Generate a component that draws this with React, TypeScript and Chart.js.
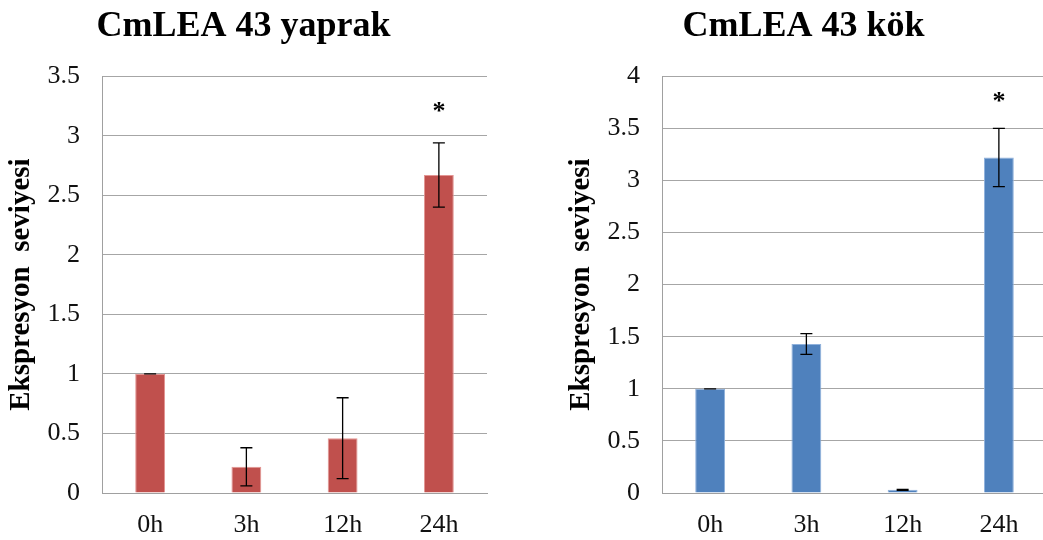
import React, { useEffect, useRef } from "react";
import { Chart, registerables } from "chart.js";

Chart.register(...registerables);

const categories = ["0h", "3h", "12h", "24h"];

const leafTitle = "CmLEA 43 yaprak";
const leafValues = [1.0, 0.22, 0.46, 2.67];
const leafErrors = [0.0, 0.16, 0.34, 0.27];
const leafMarks = ["", "", "", "*"];
const leafMax = 3.5;

const rootTitle = "CmLEA 43 kök";
const rootValues = [1.0, 1.43, 0.03, 3.22];
const rootErrors = [0.0, 0.1, 0.005, 0.28];
const rootMarks = ["", "", "", "*"];
const rootMax = 4;

const yAxisTitle = "Ekspresyon  seviyesi";
const tickStep = 0.5;
const markOffset = 0.29;

const FONT = "'Liberation Serif', 'Times New Roman', serif";

function makeErrorPlugin(errors: number[], marks: string[]) {
  return {
    id: "errorBars",
    afterDatasetsDraw(chart: any) {
      const ctx = chart.ctx;
      const meta = chart.getDatasetMeta(0);
      const y = chart.scales.y;
      const values = chart.data.datasets[0].data as number[];
      ctx.save();
      ctx.strokeStyle = "#000";
      ctx.lineWidth = 1.3;
      meta.data.forEach((bar: any, i: number) => {
        const v = values[i];
        const e = errors[i];
        const x = bar.x;
        const yt = y.getPixelForValue(v + e);
        const yb = y.getPixelForValue(v - e);
        const cap = 6;
        ctx.beginPath();
        ctx.moveTo(x, yt);
        ctx.lineTo(x, yb);
        ctx.moveTo(x - cap, yt);
        ctx.lineTo(x + cap, yt);
        ctx.moveTo(x - cap, yb);
        ctx.lineTo(x + cap, yb);
        ctx.stroke();
        if (marks[i]) {
          const yc = y.getPixelForValue(v + e + markOffset);
          ctx.fillStyle = "#000";
          ctx.font = `bold 26px ${FONT}`;
          ctx.textAlign = "center";
          ctx.textBaseline = "alphabetic";
          ctx.fillText(marks[i], x, yc + 11);
        }
      });
      ctx.restore();
    },
  };
}

function BarChart(props: {
  title: string;
  values: number[];
  errors: number[];
  marks: string[];
  max: number;
  color: string;
  border: string;
  left: number;
}) {
  const ref = useRef<HTMLCanvasElement | null>(null);
  useEffect(() => {
    if (!ref.current) return;
    const chart = new Chart(ref.current, {
      type: "bar",
      data: {
        labels: categories,
        datasets: [
          {
            data: props.values,
            backgroundColor: props.color,
            borderColor: props.border,
            borderWidth: 1,
            barPercentage: 0.62,
            categoryPercentage: 0.5,
          },
        ],
      },
      options: {
        animation: false,
        responsive: false,
        maintainAspectRatio: false,
        layout: { padding: { left: 0, right: 1, top: 0, bottom: 0 } },
        plugins: {
          legend: { display: false },
          tooltip: { enabled: false },
          title: {
            display: true,
            text: props.title,
            color: "#000",
            font: { family: FONT, size: 36, weight: "bold", lineHeight: 1.2 },
            padding: { top: 5, bottom: 28 },
          },
        },
        scales: {
          x: {
            grid: { display: false, drawTicks: false },
            border: { display: true, color: "#a0a0a0", width: 1 },
            ticks: {
              color: "#111",
              font: { family: FONT, size: 26 },
              padding: 17,
              maxRotation: 0,
            },
            afterFit(scale: any) {
              scale.height = 47;
            },
          },
          y: {
            min: 0,
            max: props.max,
            grid: { color: "#a6a6a6", lineWidth: 1, drawTicks: false },
            border: { display: true, color: "#a0a0a0", width: 1 },
            ticks: {
              stepSize: tickStep,
              color: "#111",
              font: { family: FONT, size: 26 },
              padding: 22,
              callback: (v: any) => String(v),
            },
            title: {
              display: true,
              text: yAxisTitle,
              color: "#000",
              font: { family: FONT, size: 29, weight: "bold", lineHeight: 1.2 },
              padding: { top: 4, bottom: 0 },
            },
            afterFit(scale: any) {
              scale.width = 102;
            },
          },
        },
      } as any,
      plugins: [makeErrorPlugin(props.errors, props.marks)],
    });
    return () => chart.destroy();
  }, []);
  return (
    <canvas
      ref={ref}
      width={488}
      height={540}
      style={{ position: "absolute", left: props.left, top: 0, width: 488, height: 540 }}
    />
  );
}

export default function App() {
  return (
    <div
      style={{
        position: "fixed",
        left: 0,
        top: 0,
        width: 1043,
        height: 540,
        overflow: "hidden",
        background: "#fff",
      }}
    >
      <BarChart
        title={leafTitle}
        values={leafValues}
        errors={leafErrors}
        marks={leafMarks}
        max={leafMax}
        color="#c0504d"
        border="#e39593"
        left={0}
      />
      <BarChart
        title={rootTitle}
        values={rootValues}
        errors={rootErrors}
        marks={rootMarks}
        max={rootMax}
        color="#4f81bd"
        border="#8fb1dc"
        left={560}
      />
    </div>
  );
}
